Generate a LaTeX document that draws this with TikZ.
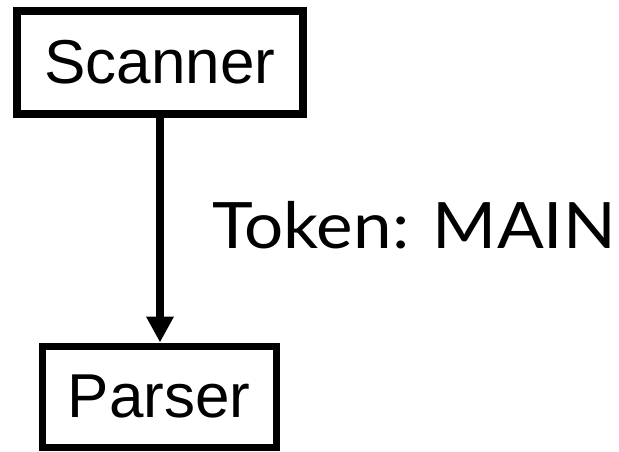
\documentclass[tikz,border=0pt]{standalone}
\usepackage{fontspec}
\setmainfont{Liberation Sans}
\newfontfamily\tokfont{Lato}
\usetikzlibrary{arrows.meta}
\begin{document}
\begin{tikzpicture}[x=1pt,y=-1pt,
  box/.style={draw=black, fill=white, inner sep=0pt, outer sep=0pt, font=\fontsize{62}{70}\selectfont},
  flow/.style={line width=8pt, -{Triangle[width=26pt,length=26pt]}}]
\useasboundingbox (0,0) rectangle (619,451);
\node[box, line width=8pt, minimum width=286pt, minimum height=103pt] (scanner) at (160,62.5) {Scanner};
\node[box, line width=7pt, minimum width=234pt, minimum height=101pt] (parser) at (159,396.5) {Parser};
\draw[flow] (scanner.south -| 160,0) -- ([yshift=3.5pt]parser.north -| 160,0);
\node[anchor=base west, inner sep=0pt, font=\tokfont\fontsize{64}{70}\selectfont] (token) at (212,248) {\scalebox{1.08}[1]{Token: MAIN}};
\end{tikzpicture}
\end{document}
